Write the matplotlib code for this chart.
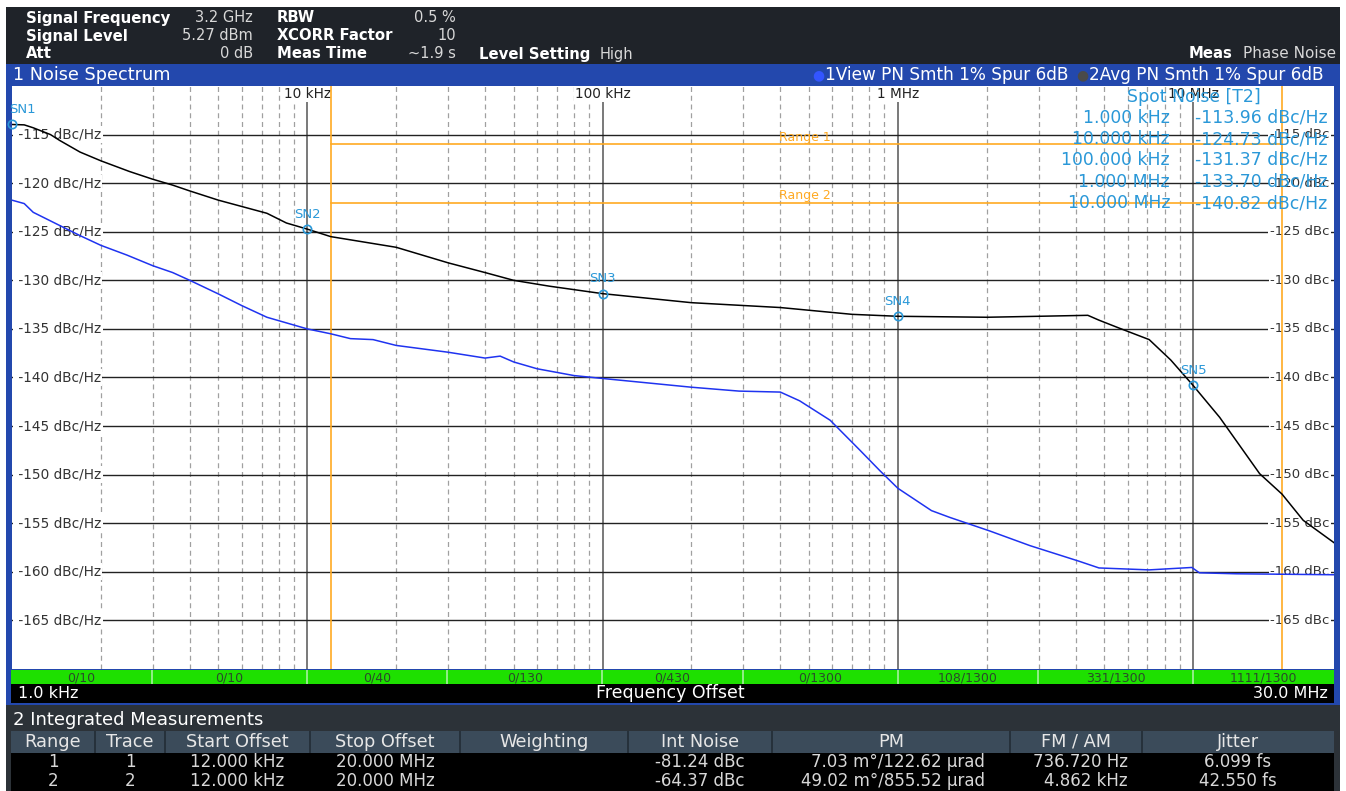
import numpy as np
import matplotlib
matplotlib.use("Agg")
import matplotlib.pyplot as plt
from matplotlib.patches import Rectangle

plt.rcParams['font.family'] = ['DejaVu Sans']

W, H = 1346, 791

# ---- data ----
black_freq = [1e3, 1.1e3, 1.18e3, 1.35e3, 1.45e3, 1.7e3, 2e3, 2.5e3, 3e3, 3.5e3, 4e3, 5e3, 6e3,
              7.3e3, 8.5e3, 1e4, 1.2e4, 2e4, 3e4, 4e4, 5e4, 6.6e4, 1e5, 2e5, 4e5, 7e5, 1e6, 2e6,
              3e6, 4.4e6, 4.8e6, 5.6e6, 7.1e6, 8.4e6, 1e7, 1.23e7, 1.68e7, 2e7, 2.36e7, 3e7]
black_db = [-113.96, -114.0, -114.3, -115.0, -115.6, -116.8, -117.7, -118.8, -119.6, -120.2,
            -120.8, -121.75, -122.4, -123.1, -124.1, -124.73, -125.5, -126.6, -128.2, -129.2,
            -130.0, -130.6, -131.37, -132.3, -132.8, -133.5, -133.7, -133.8, -133.7, -133.6,
            -134.1, -134.9, -136.1, -138.2, -140.82, -144.1, -149.9, -152.0, -154.7, -157.0]

blue_freq = [1e3, 1.1e3, 1.18e3, 1.7e3, 2e3, 2.45e3, 3e3, 3.5e3, 4e3, 5e3, 6e3, 7.3e3, 1e4,
             1.2e4, 1.4e4, 1.67e4, 2e4, 3e4, 4e4, 4.5e4, 5e4, 6e4, 8e4, 1e5, 2e5, 2.9e5, 4e5,
             4.65e5, 5.9e5, 7.45e5, 8.7e5, 1e6, 1.3e6, 1.5e6, 2.05e6, 2.8e6, 4.1e6, 4.8e6,
             7.1e6, 9.9e6, 1.05e7, 1.4e7, 3e7]
blue_db = [-121.75, -122.1, -123.0, -125.4, -126.4, -127.4, -128.5, -129.2, -130.0, -131.4,
           -132.6, -133.8, -135.0, -135.5, -136.0, -136.1, -136.7, -137.4, -138.0, -137.8,
           -138.4, -139.1, -139.8, -140.1, -141.0, -141.4, -141.5, -142.4, -144.4, -147.5,
           -149.6, -151.4, -153.7, -154.4, -155.8, -157.3, -158.9, -159.6, -159.8, -159.55,
           -160.1, -160.2, -160.3]

spot_names = ['SN1', 'SN2', 'SN3', 'SN4', 'SN5']
spot_freq = [1e3, 1e4, 1e5, 1e6, 1e7]
spot_db = [-113.96, -124.73, -131.37, -133.70, -140.82]
spot_freq_labels = ['1.000 kHz', '10.000 kHz', '100.000 kHz', '1.000 MHz', '10.000 MHz']

range_start, range_stop = 12e3, 20e6
range_levels = [-116, -122]
range_names = ['Range 1', 'Range 2']

y_ticks = [-115, -120, -125, -130, -135, -140, -145, -150, -155, -160, -165]
decades = [1e4, 1e5, 1e6, 1e7]
decade_labels = ['10 kHz', '100 kHz', '1 MHz', '10 MHz']

seg_edges = [1e3, 3e3, 1e4, 3e4, 1e5, 3e5, 1e6, 3e6, 1e7, 3e7]
seg_labels = ['0/10', '0/10', '0/40', '0/130', '0/430', '0/1300', '108/1300', '331/1300', '1111/1300']

header_rows = [
    ('Signal Frequency', '3.2 GHz', 'RBW', '0.5 %'),
    ('Signal Level', '5.27 dBm', 'XCORR Factor', '10'),
    ('Att', '0 dB', 'Meas Time', '~1.9 s'),
]

table_cols = ['Range', 'Trace', 'Start Offset', 'Stop Offset', 'Weighting', 'Int Noise', 'PM',
              'FM / AM', 'Jitter']
table_rows = [
    ['1', '1', '12.000 kHz', '20.000 MHz', '', '-81.24 dBc', '7.03 m°/122.62 µrad',
     '736.720 Hz', '6.099 fs'],
    ['2', '2', '12.000 kHz', '20.000 MHz', '', '-64.37 dBc', '49.02 m°/855.52 µrad',
     '4.862 kHz', '42.550 fs'],
]

# colours
DARK = '#1f2329'
RS_BLUE = '#2348ad'
MARK = '#2a98d8'
ORANGE = '#ffaa22'
TRACE_BLUE = '#1f33f0'


def fx(x):
    return x / W


def fy(y):
    return 1 - y / H


def rect(fig, x0, y0, x1, y1, color, z=-5):
    fig.patches.append(Rectangle((fx(x0), fy(y1)), (x1 - x0) / W, (y1 - y0) / H,
                                 transform=fig.transFigure, facecolor=color,
                                 edgecolor='none', zorder=z))


def ftext(fig, x, y, s, **kw):
    kw.setdefault('va', 'center')
    kw.setdefault('zorder', 20)
    fig.text(fx(x), fy(y), s, **kw)


fig = plt.figure(figsize=(W / 100, H / 100), dpi=100)
fig.patch.set_facecolor('white')

# ---- header ----
rect(fig, 6, 7, 1340, 64, DARK)
rect(fig, 6, 64, 1340, 705, RS_BLUE)
rect(fig, 6, 705, 1340, 791, '#2c3238')

row_y = [18, 36, 54]
for (k1, v1, k2, v2), y in zip(header_rows, row_y):
    ftext(fig, 26, y, k1, color='white', fontsize=10.7, fontweight='bold')
    ftext(fig, 253, y, v1, color='#d8d8d8', fontsize=10.5, ha='right')
    ftext(fig, 277, y, k2, color='white', fontsize=10.7, fontweight='bold')
    ftext(fig, 456, y, v2, color='#d8d8d8', fontsize=10.5, ha='right')
ftext(fig, 479, 54, 'Level Setting', color='white', fontsize=10.7, fontweight='bold')
ftext(fig, 600, 54, 'High', color='#d8d8d8', fontsize=10.5)
ftext(fig, 1232, 54, 'Meas', color='white', fontsize=10.7, fontweight='bold', ha='right')
ftext(fig, 1336, 54, 'Phase Noise', color='#d8d8d8', fontsize=11, ha='right')

ftext(fig, 13, 75, '1 Noise Spectrum', color='white', fontsize=12.7)
ftext(fig, 818, 75, '●', color='#3355ff', fontsize=10, ha='center')
ftext(fig, 825, 75, '1View PN Smth 1% Spur 6dB', color='white', fontsize=12.2)
ftext(fig, 1082, 75, '●', color='#4a4a4a', fontsize=10, ha='center')
ftext(fig, 1089, 75, '2Avg PN Smth 1% Spur 6dB', color='white', fontsize=12.2)

# ---- main plot ----
ax = fig.add_axes([fx(12), fy(669), (1334 - 12) / W, (669 - 86) / H])
ax.set_zorder(2)
ax.set_xscale('log')
ax.set_xlim(1e3, 3e7)
ax.set_ylim(-170, -110)
ax.set_facecolor('white')
ax.set_xticks([])
ax.set_yticks([])
ax.minorticks_off()
for s in ax.spines.values():
    s.set_visible(False)

for d in [1e3, 1e4, 1e5, 1e6]:
    for m in range(2, 10):
        f = d * m
        if f < 3e7:
            ax.axvline(f, color='#a0a0a0', lw=0.9, ls=(0, (4, 3)), zorder=1)
for d in decades:
    ax.axvline(d, color='#555555', lw=1.1, zorder=1)
for yv in y_ticks:
    ax.axhline(yv, color='#222222', lw=1.0, zorder=1)

ytr = ax.get_yaxis_transform()
xtr = ax.get_xaxis_transform()
for yv in y_ticks:
    ax.text(0.0015, yv, f' {yv} dBc/Hz', transform=ytr, ha='left', va='center', fontsize=9.8,
            color='#333333', zorder=2,
            bbox=dict(facecolor='white', edgecolor='none', pad=1.0))
    ax.text(0.9965, yv, f'{yv} dBc', transform=ytr, ha='right', va='center', fontsize=9.5,
            color='#333333', zorder=2,
            bbox=dict(facecolor='white', edgecolor='none', pad=1.0))
for d, lab in zip(decades, decade_labels):
    ax.text(d, 0.986, lab, transform=xtr, ha='center', va='center', fontsize=9.8,
            color='#222222', zorder=2,
            bbox=dict(facecolor='white', edgecolor='none', pad=0.8))

# integration ranges
ax.axvline(range_start, color=ORANGE, lw=1.2, zorder=4)
ax.axvline(range_stop, color=ORANGE, lw=1.2, zorder=4)
for lvl, name in zip(range_levels, range_names):
    ax.plot([range_start, range_stop], [lvl, lvl], color=ORANGE, lw=1.2, zorder=4)
    ax.annotate(name, (3.95e5, lvl), xytext=(0, 7), textcoords='offset pixels',
                ha='left', va='center', fontsize=9, color=ORANGE, zorder=4)

# traces
ax.plot(blue_freq, blue_db, color=TRACE_BLUE, lw=1.1, zorder=5)
ax.plot(black_freq, black_db, color='black', lw=1.1, zorder=5)

# spot noise markers
ax.plot(spot_freq, spot_db, ls='none', marker='o', ms=6, mfc='none', mec=MARK, mew=1.2,
        zorder=6, clip_on=False)
for name, f, v in zip(spot_names, spot_freq, spot_db):
    ha = 'left' if name == 'SN1' else 'center'
    dx = -3 if name == 'SN1' else 0
    ax.annotate(name, (f, v), xytext=(dx, 15), textcoords='offset pixels', ha=ha,
                va='center', fontsize=9.5, color=MARK, zorder=6)

# spot noise table
ftext(fig, 1127, 97, 'Spot Noise [T2]', color=MARK, fontsize=12.4)
spot_y = [118, 139, 160, 182, 203]
for lab, v, y in zip(spot_freq_labels, spot_db, spot_y):
    ftext(fig, 1170, y, lab, color=MARK, fontsize=12.4, ha='right')
    ftext(fig, 1195, y, f'{v:.2f} dBc/Hz', color=MARK, fontsize=12.4)

# ---- status bar (green) ----
bar = fig.add_axes([fx(11), fy(684), (1334 - 11) / W, 14 / H])
bar.set_zorder(2)
bar.set_xscale('log')
bar.set_xlim(1e3, 3e7)
bar.set_ylim(0, 1)
bar.set_xticks([])
bar.set_yticks([])
bar.minorticks_off()
for s in bar.spines.values():
    s.set_visible(False)
bar.set_facecolor('#1ee000')
for e in seg_edges[1:-1]:
    bar.axvline(e, color='#a8f0a0', lw=1.2)
for a, b, lab in zip(seg_edges[:-1], seg_edges[1:], seg_labels):
    bar.text(np.sqrt(a * b), 0.45, lab, ha='center', va='center', fontsize=9,
             color='#2a4a2a')

rect(fig, 11, 684, 1334, 703, 'black', z=1)
ftext(fig, 18, 693, '1.0 kHz', color='white', fontsize=11.5)
ftext(fig, 670, 693, 'Frequency Offset', color='white', fontsize=12.5, ha='center')
ftext(fig, 1328, 693, '30.0 MHz', color='white', fontsize=11.5, ha='right')

# ---- integrated measurements table ----
ftext(fig, 13, 720, '2 Integrated Measurements', color='white', fontsize=13)
col_edges = [11, 95, 165, 310, 460, 628, 772, 1010, 1142, 1334]
rect(fig, 11, 731, 1334, 753, '#3b4b5a', z=1)
rect(fig, 11, 753, 1334, 791, 'black', z=1)
for e in col_edges[1:-1]:
    rect(fig, e - 1, 731, e + 1, 753, '#26313b', z=2)
centers = [(a + b) / 2 for a, b in zip(col_edges[:-1], col_edges[1:])]
for c, name in zip(centers, table_cols):
    ftext(fig, c, 742, name, color='#e6e6e6', fontsize=12.8, ha='center')
for row, y in zip(table_rows, [762, 781]):
    for i, (c, val) in enumerate(zip(centers, row)):
        if not val:
            continue
        if i == 6:
            ftext(fig, 985, y, val, color='#d8d8d8', fontsize=12, ha='right')
        elif i == 7:
            ftext(fig, 1128, y, val, color='#d8d8d8', fontsize=12, ha='right')
        else:
            ftext(fig, c, y, val, color='#d8d8d8', fontsize=12, ha='center')

fig.savefig('out.png', dpi=100)
